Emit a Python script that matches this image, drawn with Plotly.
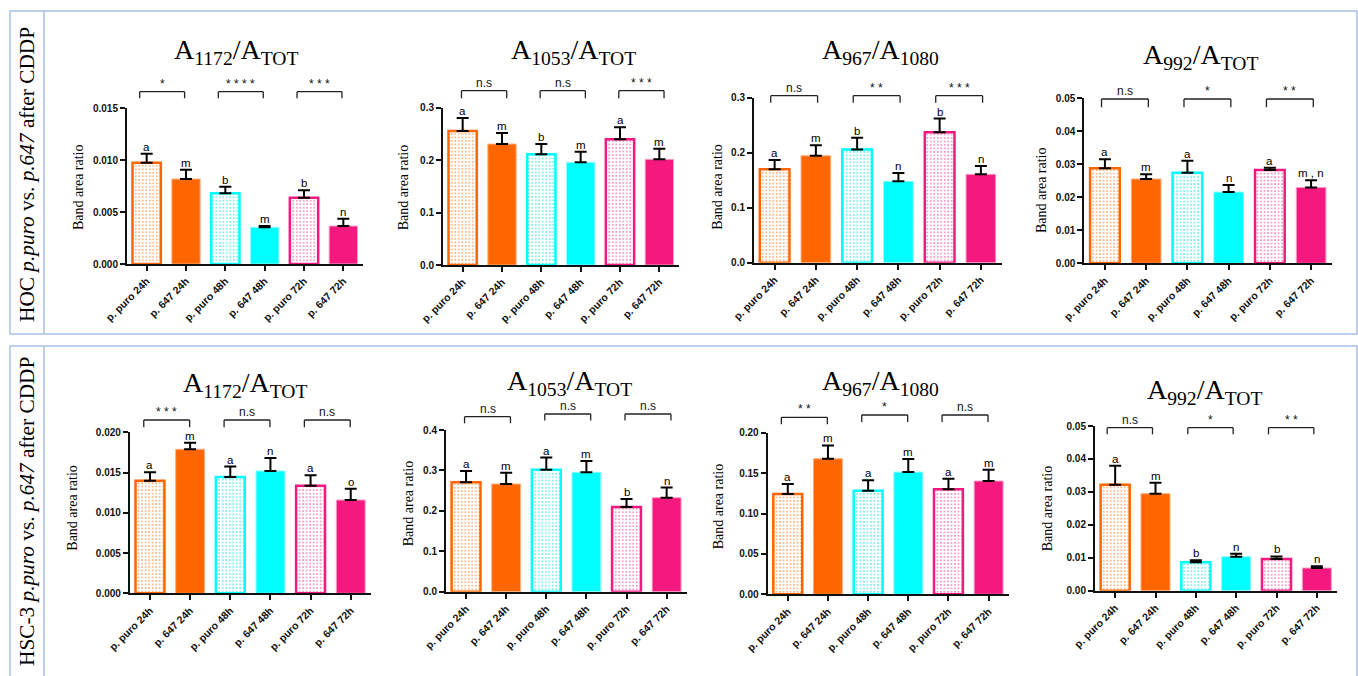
import plotly.graph_objects as go

W, H = 1358, 676

categories = ["p. puro 24h", "p. 647 24h", "p. puro 48h", "p. 647 48h", "p. puro 72h", "p. 647 72h"]

# HOC p.puro vs p.647 after CDDP
hoc_a1172 = [0.00974, 0.00817, 0.0068, 0.00353, 0.00638, 0.00365]
hoc_a1172_err = [0.00085, 0.0009, 0.00063, 0.00012, 0.0007, 0.0007]
hoc_a1053 = [0.2555, 0.2307, 0.211, 0.1958, 0.2397, 0.2015]
hoc_a1053_err = [0.025, 0.021, 0.02, 0.02, 0.023, 0.02]
hoc_a967 = [0.1698, 0.1945, 0.206, 0.148, 0.237, 0.1607]
hoc_a967_err = [0.017, 0.019, 0.021, 0.015, 0.025, 0.015]
hoc_a992 = [0.0288, 0.02555, 0.02745, 0.0216, 0.02827, 0.023]
hoc_a992_err = [0.0027, 0.0014, 0.0036, 0.0021, 0.0007, 0.0022]

# HSC-3 p.puro vs p.647 after CDDP
hsc_a1172 = [0.01399, 0.01789, 0.01445, 0.0152, 0.01337, 0.01159]
hsc_a1172_err = [0.00104, 0.0008, 0.0013, 0.0016, 0.0013, 0.0014]
hsc_a1053 = [0.2707, 0.2665, 0.3018, 0.2954, 0.2095, 0.2326]
hsc_a1053_err = [0.028, 0.028, 0.03, 0.028, 0.02, 0.025]
hsc_a967 = [0.1241, 0.1678, 0.1282, 0.1513, 0.1299, 0.1402]
hsc_a967_err = [0.0124, 0.0165, 0.013, 0.016, 0.013, 0.014]
hsc_a992 = [0.0322, 0.02946, 0.00861, 0.01033, 0.00962, 0.00689]
hsc_a992_err = [0.0057, 0.0033, 0.0006, 0.0009, 0.0008, 0.0005]

# group letters above bars
hoc_letters = [["a", "m", "b", "m", "b", "n"], ["a", "m", "b", "m", "a", "m"],
               ["a", "m", "b", "n", "b", "n"], ["a", "m", "a", "n", "a", "m , n"]]
hsc_letters = [["a", "m", "a", "n", "a", "o"], ["a", "m", "a", "m", "b", "n"],
               ["a", "m", "a", "m", "a", "m"], ["a", "m", "b", "n", "b", "n"]]

# significance between pairs (24h, 48h, 72h)
hoc_sig = [["*", "* * * *", "* * *"], ["n.s", "n.s", "* * *"], ["n.s", "* *", "* * *"], ["n.s", "*", "* *"]]
hsc_sig = [["* * *", "n.s", "n.s"], ["n.s", "n.s", "n.s"], ["* *", "*", "n.s"], ["n.s", "*", "* *"]]

titles = ["A<sub>1172</sub>/A<sub>TOT</sub>", "A<sub>1053</sub>/A<sub>TOT</sub>",
          "A<sub>967</sub>/A<sub>1080</sub>", "A<sub>992</sub>/A<sub>TOT</sub>"]
row_labels = ["HOC <i>p.puro</i> vs. <i>p.647</i> after CDDP",
              "HSC-3 <i>p.puro</i> vs. <i>p.647</i> after CDDP"]

y_top = [0.015, 0.3, 0.3, 0.05, 0.020, 0.4, 0.20, 0.05]
y_dtick = [0.005, 0.1, 0.1, 0.01, 0.005, 0.1, 0.05, 0.01]
y_fmt = [".3f", ".1f", ".1f", ".2f", ".3f", ".1f", ".2f", ".2f"]

ORANGE, CYAN, PINK = "#FF6600", "#00FFFF", "#F4187F"
TINT = {ORANGE: "#FFA468", CYAN: "#5CEAEA", PINK: "#F57FB6"}
LIGHT = {ORANGE: "#FFB080", CYAN: "#90FFFF", PINK: "#F9A0C8"}
bar_colors = [ORANGE, ORANGE, CYAN, CYAN, PINK, PINK]

# layout geometry (pixels): left, right, top, bottom
boxes = [
    (127, 363, 108, 264), (443, 679, 107.7, 265), (754, 1001.5, 97.7, 262.7), (1084.3, 1331.7, 98.3, 263.3),
    (129.9, 370.8, 432.3, 593.3), (446, 686.7, 430, 591.7), (767.7, 1008.7, 432.7, 594.3), (1095, 1337, 426, 590.7),
]
# title center x, baseline y
title_pos = [(236, 62), (573, 62), (880, 62), (1200, 66.7), (245, 395), (569, 393), (880, 393), (1204, 401.7)]
ytitle_pos = [(78, 187), (403.3, 187), (716.7, 187), (1041, 190), (72.7, 508), (408.3, 503), (718.3, 506), (1048.3, 508)]
# bracket: px above axis top for each bracket, leg length, start shift px, end shift px
brackets = [
    ([16.3, 16.3, 16.3], 6.6, -7, -1.4),
    ([17, 17, 17], 7.6, -1.2, 4.7),
    ([2, 2, 2], 7, -3.9, 1.7),
    ([-0.7, -0.7, -0.7], 8.3, -3.4, 2.2),
    ([12.3, 12.3, 12.3], 7.3, -6.2, -0.5),
    ([13.3, 16, 16], 6.6, -1.5, 4.3),
    ([15.4, 17.7, 17.7], 7, -6.4, -0.6),
    ([-1.7, -1.7, -1.7], 6.6, -8, -3),
]

values = [hoc_a1172, hoc_a1053, hoc_a967, hoc_a992, hsc_a1172, hsc_a1053, hsc_a967, hsc_a992]
errors = [hoc_a1172_err, hoc_a1053_err, hoc_a967_err, hoc_a992_err,
          hsc_a1172_err, hsc_a1053_err, hsc_a967_err, hsc_a992_err]
letters = hoc_letters + hsc_letters
sigs = hoc_sig + hsc_sig

SERIF = "Liberation Serif"
SANS = "Liberation Sans"

fig = go.Figure()
annotations = []
shapes = []

for k in range(8):
    n = k + 1
    xa = "x" if n == 1 else f"x{n}"
    ya = "y" if n == 1 else f"y{n}"
    L, R, T, B = boxes[k]
    hpx = B - T
    # p.puro bars: dotted pattern, thick coloured outline
    pc = bar_colors[0::2]
    fig.add_trace(go.Bar(
        x=categories[0::2], y=values[k][0::2], xaxis=xa, yaxis=ya, width=0.72,
        marker=dict(
            color="white",
            line=dict(color=pc, width=2.5),
            pattern=dict(shape=".", fgcolor=[TINT[c] for c in pc], bgcolor="white",
                         size=3.5, solidity=0.2, fgopacity=1),
        ),
        error_y=dict(type="data", symmetric=False, array=errors[k][0::2], arrayminus=[0] * 3,
                     color="black", thickness=2, width=6),
        showlegend=False, hoverinfo="skip",
    ))
    # p.647 bars: solid fill
    sc = bar_colors[1::2]
    fig.add_trace(go.Bar(
        x=categories[1::2], y=values[k][1::2], xaxis=xa, yaxis=ya, width=0.72,
        marker=dict(color=sc, line=dict(color=[LIGHT[c] for c in sc], width=1)),
        error_y=dict(type="data", symmetric=False, array=errors[k][1::2], arrayminus=[0] * 3,
                     color="black", thickness=2, width=6),
        showlegend=False, hoverinfo="skip",
    ))
    xkey = "xaxis" if n == 1 else f"xaxis{n}"
    ykey = "yaxis" if n == 1 else f"yaxis{n}"
    fig.layout[xkey] = dict(
        domain=[L / W, R / W], anchor=ya, type="category", range=[-0.5, 5.5],
        categoryorder="array", categoryarray=categories, automargin=False,
        showline=True, linecolor="#111", linewidth=2, ticks="outside", ticklen=5, tickwidth=1.5,
        tickcolor="#111", tickangle=-45, showgrid=False,
        tickfont=dict(family=SANS, size=10.5, color="#111", weight="bold"),
    )
    fig.layout[ykey] = dict(
        domain=[1 - B / H, 1 - T / H], anchor=xa, range=[0, y_top[k]], dtick=y_dtick[k], tick0=0,
        tickformat=y_fmt[k], showline=True, linecolor="#111", linewidth=2, ticks="outside",
        ticklen=5, tickwidth=1.5, tickcolor="#111", showgrid=False, zeroline=False, automargin=False,
        tickfont=dict(family=SANS, size=10, color="#111", weight="bold"),
    )
    # title
    tx, ty = title_pos[k]
    annotations.append(dict(text=titles[k % 4], xref="paper", yref="paper", x=tx / W,
                            y=1 - (ty + 9) / H, xanchor="center", yanchor="bottom", showarrow=False,
                            font=dict(family=SERIF, size=28, color="black")))
    # y title
    yx, yy = ytitle_pos[k]
    annotations.append(dict(text="Band area ratio", xref="paper", yref="paper", x=yx / W, y=1 - yy / H,
                            xanchor="center", yanchor="middle", textangle=-90, showarrow=False,
                            font=dict(family=SERIF, size=14, color="black")))
    # letters above error bars
    for i in range(6):
        annotations.append(dict(text=letters[k][i], xref=xa, yref=ya, x=i,
                                y=values[k][i] + errors[k][i], xanchor="center", yanchor="bottom",
                                showarrow=False, yshift=-1,
                                font=dict(family=SANS, size=11.5, color="black")))
    # significance brackets
    ups, leg, s0, s1 = brackets[k]
    step = (R - L) / 6
    for j in range(3):
        a = 2 * j + s0 / step
        b = 2 * j + 1 + s1 / step
        yb = 1 + ups[j] / hpx
        yl = yb - leg / hpx
        for (xx0, yy0, xx1, yy1) in [(a, yb, b, yb), (a, yb, a, yl), (b, yb, b, yl)]:
            shapes.append(dict(type="line", xref=xa, yref=f"{ya} domain", x0=xx0, x1=xx1,
                               y0=yy0, y1=yy1, line=dict(color="#222", width=1.3)))
        annotations.append(dict(text=sigs[k][j], xref=xa, yref=f"{ya} domain", x=(a + b) / 2,
                                y=yb, xanchor="center", yanchor="bottom", showarrow=False, yshift=-1,
                                font=dict(family=SANS, size=12, color="#111")))

# row labels
for r, (yc) in enumerate([175, 512]):
    annotations.append(dict(text=row_labels[r], xref="paper", yref="paper", x=27 / W, y=1 - yc / H,
                            xanchor="center", yanchor="middle", textangle=-90, showarrow=False,
                            font=dict(family=SERIF, size=21.3, color="black")))

# panel borders
BC = "#A9BFE8"
for (t, b) in [(11, 334), (346, 690)]:
    shapes.append(dict(type="rect", xref="paper", yref="paper", x0=10 / W, x1=1357 / W,
                       y0=1 - b / H, y1=1 - t / H, line=dict(color=BC, width=1.5)))
    shapes.append(dict(type="line", xref="paper", yref="paper", x0=44 / W, x1=44 / W,
                       y0=1 - b / H, y1=1 - t / H, line=dict(color=BC, width=1.5)))

fig.update_layout(width=W, height=H, margin=dict(l=0, r=0, t=0, b=0, autoexpand=False),
                  paper_bgcolor="white", plot_bgcolor="white", annotations=annotations,
                  shapes=shapes, barmode="overlay")

fig.write_html("out.html", config={"displayModeBar": False},
               post_script="document.body.style.margin='0px';document.body.style.overflow='hidden';")
